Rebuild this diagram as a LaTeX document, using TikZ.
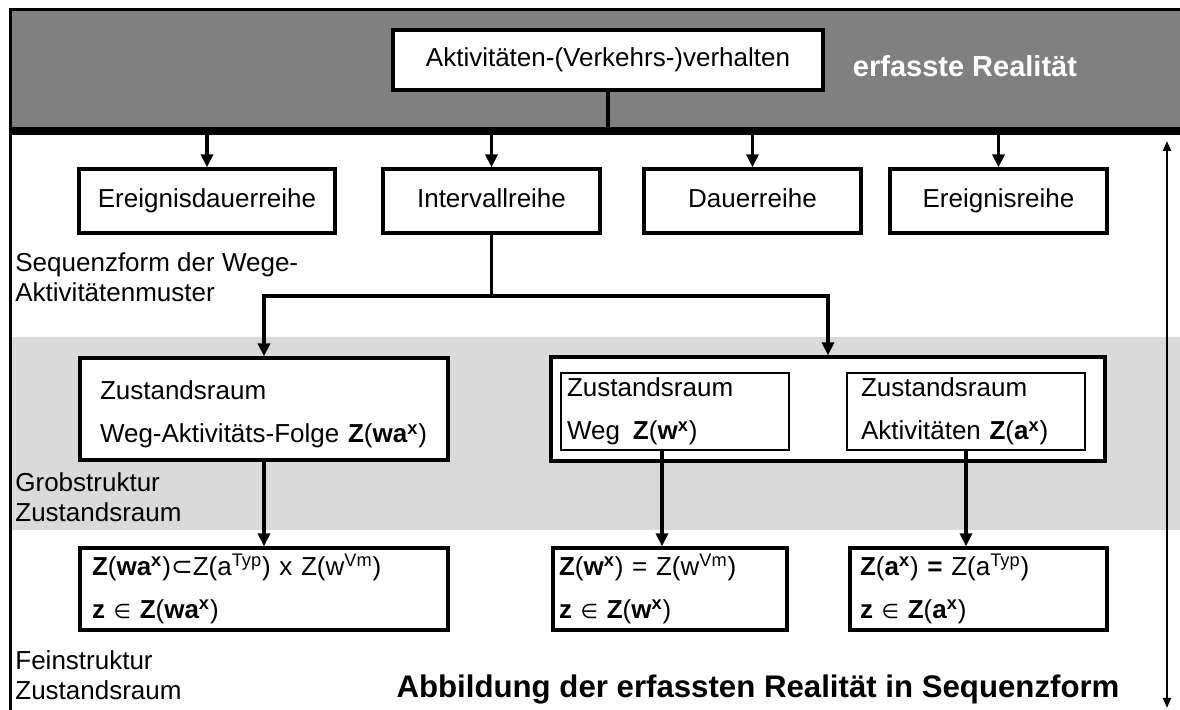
\documentclass[tikz,border=0pt]{standalone}
\usepackage{fontspec}
\setmainfont{Liberation Sans}
\newfontfamily\symfont{DejaVu Sans}
\usetikzlibrary{arrows.meta,positioning}
\definecolor{bandgray}{HTML}{808080}
\definecolor{zonegray}{HTML}{DADADA}
\newcommand{\elemof}{{\symfont\fontsize{10}{12}\selectfont ∈}}
\tikzset{
  rowbox/.style={
    rectangle, draw, fill=white, line width=1.6pt,
    minimum width=#1, minimum height=32pt,
    font=\fontsize{13}{16}\selectfont, inner sep=0pt,
    text height=9.5pt, text depth=2.8pt
  },
  rowbox/.default=108.5pt,
  statebox/.style={
    rectangle, draw, fill=white, line width=1.6pt,
    font=\fontsize{13}{21.5}\selectfont, align=left,
    text width=#1, inner ysep=0pt
  },
  subbox/.style={statebox=#1, line width=1.1pt},
  flow/.style={-{Triangle[width=6pt,length=6.5pt]}, line width=1.8pt},
  link/.style={line width=1.8pt},
  sidenote/.style={font=\fontsize{13}{15}\selectfont, align=left, anchor=west, inner sep=0pt},
  headline/.style={font=\fontsize{#1}{18}\selectfont\bfseries, inner sep=0pt},
  headline/.default=15pt,
}

\begin{document}
\begin{tikzpicture}[x=0.5pt, y=-0.5pt]
\useasboundingbox (0,0) rectangle (1180,710);
% shaded zones
\fill[bandgray] (10,10) rectangle (1180,127);
\fill[zonegray] (10,337) rectangle (1180,530);
\draw[line width=1.5pt] (10,710) -- (10,10) -- (1180,10);
\node[fill=black, inner sep=0pt, minimum width=585pt, minimum height=4pt] (bar) at (595,131) {};

% captured reality
\node[rowbox=215pt, minimum height=30pt] (behav) at (608,60) {Aktivitäten-(Verkehrs-)verhalten};
\node[headline=14.5, text=white] (real) at (965,66) {erfasste Realität};
\draw[link] (behav.south) -- (behav.south |- bar.north);

% series types
\node[rowbox=128pt] (evdur) at (207,201) {Ereignisdauerreihe};
\node[rowbox] (intv) at (491.5,201) {Intervallreihe};
\node[rowbox] (dur) at (752.5,201) {Dauerreihe};
\node[rowbox] (ev) at (998.5,201) {Ereignisreihe};
\foreach \s in {evdur,intv,dur,ev}
  \draw[flow] (\s.north |- bar.south) -- (\s.north);

\node[sidenote] (seqform) at (15,277) {Sequenzform der Wege-\\Aktivitätenmuster};

% coarse state space
\node[statebox=164pt, inner xsep=10pt, minimum height=51pt] (wazs) at (264,409)
  {\rule{0pt}{15pt}Zustandsraum\\Weg-Aktivitäts-Folge \textbf{Z}(\textbf{wa\textsuperscript{x}})};
\node[rectangle, draw, fill=white, line width=1.6pt, minimum width=277pt, minimum height=52pt] (pair) at (828,409) {};
\node[subbox=108pt, inner xsep=3pt, minimum height=38.5pt] (wz) at (675,411.5)
  {Zustandsraum\\Weg\enspace\textbf{Z}(\textbf{w\textsuperscript{x}})};
\node[subbox=105pt, inner xsep=7pt, minimum height=38.5pt] (az) at (966,411.5)
  {Zustandsraum\\Aktivitäten \textbf{Z}(\textbf{a\textsuperscript{x}})};
\coordinate (fork) at (491.5,296);
\draw[link] (intv.south) -- (fork);
\draw[flow] (fork) -| (wazs.north);
\draw[flow] (fork) -| (pair.north);

\node[sidenote] (coarse) at (15,497) {Grobstruktur\\Zustandsraum};

% fine state space
\node[statebox=172pt, inner xsep=6pt, minimum height=41pt] (zwa) at (264,589)
  {\textbf{Z}(\textbf{wa\textsuperscript{x}}){\symfont ⊂}Z(a\textsuperscript{Typ}) x Z(w\textsuperscript{Vm})\\
   \textbf{z} \elemof{} \textbf{Z}(\textbf{wa\textsuperscript{x}})};
\node[statebox=111pt, inner xsep=3pt, minimum height=41pt] (zw) at (670,589)
  {\textbf{Z}(\textbf{w\textsuperscript{x}}) = Z(w\textsuperscript{Vm})\\
   \textbf{z} \elemof{} \textbf{Z}(\textbf{w\textsuperscript{x}})};
\node[statebox=118.5pt, inner xsep=5pt, minimum height=41pt] (za) at (978.5,589)
  {\textbf{Z}(\textbf{a\textsuperscript{x}}) \textbf{=} Z(a\textsuperscript{Typ})\\
   \textbf{z} \elemof{} \textbf{Z}(\textbf{a\textsuperscript{x}})};
\draw[flow] (wazs.south) -- (zwa.north);
\draw[flow] ([xshift=-6.5pt]wz.south) -- ([xshift=-6.5pt]wz.south |- zw.north);
\draw[flow] (az.south) -- (az.south |- za.north);

\node[sidenote] (fine) at (15,675) {Feinstruktur\\Zustandsraum};
\node[headline=15.6] (mapping) at (758,690) {Abbildung der erfassten Realität in Sequenzform};

% span of the mapping
\coordinate (span-top) at (1167,141);
\coordinate (span-bot) at (1167,708);
\draw[{Triangle[width=4pt,length=5pt]}-{Triangle[width=4pt,length=5pt]}, line width=1pt] (span-top) -- (span-bot);
\end{tikzpicture}
\end{document}
